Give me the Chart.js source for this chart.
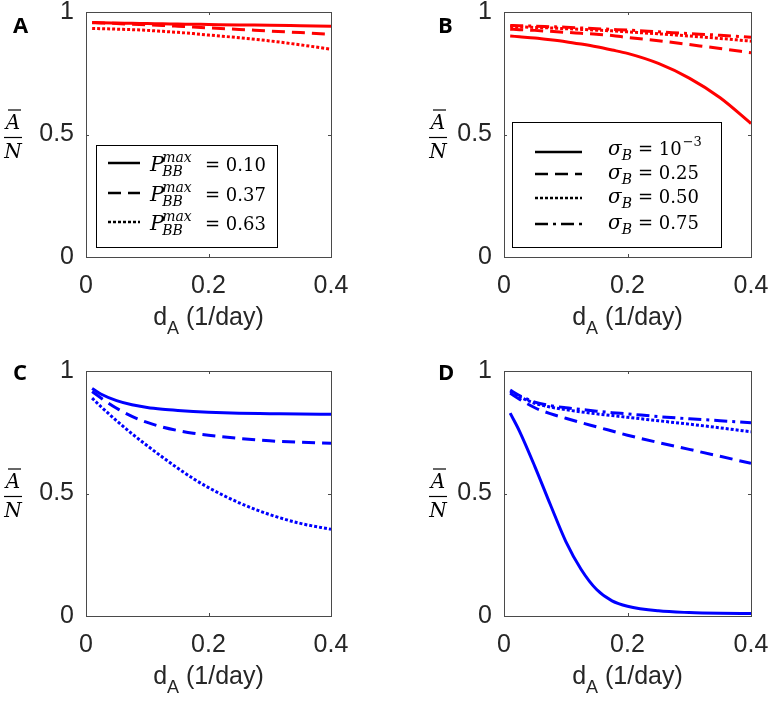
<!DOCTYPE html>
<html>
<head>
<meta charset="utf-8">
<script src="https://cdn.jsdelivr.net/npm/chart.js@4.4.1/dist/chart.umd.min.js"></script>
<style>
  html, body { margin: 0; padding: 0; background: #fff; }
  #wrap { position: relative; width: 771px; height: 703px; }
  #wrap canvas { position: absolute; }
</style>
</head>
<body>
<div id="wrap">
  <canvas id="panelA" width="385" height="350" style="left:0px;top:0px"></canvas>
  <canvas id="panelB" width="386" height="350" style="left:385px;top:0px"></canvas>
  <canvas id="panelC" width="385" height="353" style="left:0px;top:350px"></canvas>
  <canvas id="panelD" width="386" height="353" style="left:385px;top:350px"></canvas>
</div>
<script>
"use strict";

// d_A (1/day), shared x values for every curve
var dA = [0.01, 0.025, 0.05, 0.075, 0.1, 0.125, 0.15, 0.175, 0.2, 0.25, 0.3, 0.35, 0.4];
var xTicks = [0, 0.2, 0.4];
var yTicks = [0, 0.5, 1];

// legend values
var pbbValues = ["0.10", "0.37", "0.63"];
var sigmaValues = ["10", "0.25", "0.50", "0.75"];   // first one is 10^-3

// panel A : P_BB^max = 0.10 / 0.37 / 0.63
var aP010 = [0.957, 0.956, 0.955, 0.954, 0.953, 0.952, 0.951, 0.950, 0.949, 0.947, 0.946, 0.944, 0.942];
var aP037 = [0.956, 0.955, 0.953, 0.950, 0.948, 0.945, 0.942, 0.939, 0.935, 0.929, 0.922, 0.916, 0.909];
var aP063 = [0.933, 0.932, 0.930, 0.928, 0.925, 0.921, 0.917, 0.912, 0.906, 0.895, 0.882, 0.866, 0.848];

// panel B : sigma_B = 1e-3 / 0.25 / 0.50 / 0.75
var bS0001 = [0.902, 0.899, 0.894, 0.887, 0.879, 0.869, 0.858, 0.845, 0.831, 0.790, 0.730, 0.650, 0.545];
var bS025 = [0.930, 0.928, 0.925, 0.921, 0.917, 0.913, 0.909, 0.904, 0.896, 0.883, 0.867, 0.851, 0.834];
var bS050 = [0.940, 0.939, 0.937, 0.935, 0.932, 0.929, 0.926, 0.923, 0.919, 0.911, 0.902, 0.892, 0.881];
var bS075 = [0.945, 0.944, 0.942, 0.940, 0.938, 0.935, 0.932, 0.929, 0.926, 0.919, 0.912, 0.905, 0.897];

// panel C : same P_BB^max values, blue
var cP010 = [0.929, 0.905, 0.879, 0.862, 0.851, 0.844, 0.839, 0.835, 0.832, 0.828, 0.826, 0.824, 0.823];
var cP037 = [0.916, 0.889, 0.848, 0.815, 0.790, 0.771, 0.757, 0.746, 0.738, 0.725, 0.715, 0.709, 0.705];
var cP063 = [0.889, 0.853, 0.797, 0.744, 0.695, 0.648, 0.603, 0.561, 0.524, 0.462, 0.414, 0.378, 0.354];

// panel D : same sigma_B values, blue
var dS0001 = [0.828, 0.755, 0.610, 0.455, 0.305, 0.190, 0.108, 0.062, 0.040, 0.021, 0.014, 0.011, 0.010];
var dS025 = [0.909, 0.885, 0.850, 0.826, 0.807, 0.789, 0.772, 0.755, 0.738, 0.708, 0.680, 0.652, 0.623];
var dS050 = [0.916, 0.895, 0.868, 0.853, 0.842, 0.833, 0.825, 0.818, 0.811, 0.797, 0.783, 0.768, 0.752];
var dS075 = [0.922, 0.900, 0.873, 0.859, 0.850, 0.843, 0.836, 0.830, 0.825, 0.814, 0.805, 0.797, 0.789];

var dashes = {
  solid: [],
  dashed: [13, 7],
  dotted: [3, 2],
  dashdot: [13, 5, 3, 5]
};

var SANS = "'Liberation Sans', Arial, sans-serif";
var SERIF = "'DejaVu Serif', serif";
var AXIS_COLOR = "#262626";

// draw a row of text pieces left to right, returns end x
function drawRuns(ctx, x, y, runs) {
  runs.forEach(function (r) {
    ctx.font = r.font;
    ctx.fillText(r.text, x, y + (r.dy || 0));
    x += ctx.measureText(r.text).width;
  });
  return x;
}

function legendRowsPbb(ctx, lg) {
  pbbValues.forEach(function (val, i) {
    var base = lg.rows[i] + 8;
    ctx.font = "italic 21px " + SERIF;
    ctx.fillText("P", lg.textX, base);
    var x1 = lg.textX + ctx.measureText("P").width - 2;
    ctx.font = "italic 14px " + SERIF;
    ctx.fillText("max", x1, base - 9);
    ctx.fillText("BB", x1, base + 5);
    ctx.font = "18px " + SERIF;
    ctx.fillText("= " + val, lg.eqX, base);
  });
}

function legendRowsSigma(ctx, lg) {
  sigmaValues.forEach(function (val, i) {
    var base = lg.rows[i] + (i == 0 ? 3 : 5);
    ctx.font = "italic 20px " + SERIF;
    ctx.fillText("\u03c3", lg.textX, base);
    var x1 = lg.textX + ctx.measureText("\u03c3").width;
    ctx.font = "italic 14px " + SERIF;
    ctx.fillText("B", x1, base + 5);
    ctx.font = "18px " + SERIF;
    ctx.fillText("= " + val, lg.eqX, base);
    if (i == 0) {
      var w = ctx.measureText("= " + val).width;
      ctx.font = "13px " + SERIF;
      ctx.fillText("\u22123", lg.eqX + w + 1, base - 9);
    }
  });
}

var panelDecor = {
  id: "panelDecor",
  afterDraw: function (chart, args, o) {
    var ctx = chart.ctx;
    var a = chart.chartArea;
    var xs = chart.scales.x, ys = chart.scales.y;
    ctx.save();

    // box + inward ticks
    ctx.strokeStyle = "#4a4a4a";
    ctx.lineWidth = 1;
    ctx.setLineDash([]);
    ctx.strokeRect(a.left + 0.5, a.top + 0.5, a.right - a.left, a.bottom - a.top);
    ctx.beginPath();
    xTicks.forEach(function (v) {
      var px = Math.round(xs.getPixelForValue(v)) + 0.5;
      ctx.moveTo(px, a.bottom); ctx.lineTo(px, a.bottom - 3);
      ctx.moveTo(px, a.top); ctx.lineTo(px, a.top + 3);
    });
    yTicks.forEach(function (v) {
      var py = Math.round(ys.getPixelForValue(v)) + 0.5;
      ctx.moveTo(a.left, py); ctx.lineTo(a.left + 3, py);
      ctx.moveTo(a.right, py); ctx.lineTo(a.right - 3, py);
    });
    ctx.stroke();

    // x title  d_A (1/day)
    ctx.fillStyle = AXIS_COLOR;
    ctx.textAlign = "left";
    ctx.textBaseline = "alphabetic";
    var runs = [
      { text: "d", font: "25px " + SANS },
      { text: "A", font: "18px " + SANS, dy: 9 },
      { text: " (1/day)", font: "25px " + SANS }
    ];
    var tw = 0;
    runs.forEach(function (r) { ctx.font = r.font; tw += ctx.measureText(r.text).width; });
    drawRuns(ctx, (a.left + a.right) / 2 - tw / 2, a.bottom + 68, runs);

    // y label  A-bar / N
    ctx.fillStyle = "#000";
    ctx.strokeStyle = "#000";
    var fy = Math.round(ys.getPixelForValue(0.5)) + 2.5;
    var cx = o.ylabelX;
    ctx.lineWidth = 1.2;
    ctx.beginPath();
    ctx.moveTo(cx - 9, fy); ctx.lineTo(cx + 9, fy);
    ctx.stroke();
    ctx.font = "italic 20px " + SERIF;
    ctx.textAlign = "center";
    ctx.fillText("A", cx, fy - 9);
    ctx.fillText("N", cx, fy + 20);
    ctx.beginPath();
    ctx.moveTo(cx - 5, fy - 27.5); ctx.lineTo(cx + 8, fy - 27.5);
    ctx.stroke();

    // panel letter
    ctx.textAlign = "left";
    ctx.font = "bold 22px 'Open Sans', " + SANS;
    ctx.fillText(o.letter, o.letterX, o.letterY);

    // legend
    var lg = o.legend;
    if (lg) {
      ctx.fillStyle = "#fff";
      ctx.fillRect(lg.x, lg.y, lg.w, lg.h);
      ctx.strokeStyle = "#000";
      ctx.lineWidth = 1;
      ctx.strokeRect(lg.x + 0.5, lg.y + 0.5, lg.w, lg.h);
      chart.data.datasets.forEach(function (ds, i) {
        ctx.beginPath();
        ctx.lineWidth = 2.5;
        ctx.setLineDash(ds.borderDash);
        ctx.moveTo(lg.lineX0, lg.rows[i]);
        ctx.lineTo(lg.lineX1, lg.rows[i]);
        ctx.stroke();
      });
      ctx.setLineDash([]);
      ctx.fillStyle = "#000";
      if (lg.kind == "pbb") legendRowsPbb(ctx, lg);
      else legendRowsSigma(ctx, lg);
    }
    ctx.restore();
  }
};

function makePanel(id, color, series, box, decor) {
  var canvas = document.getElementById(id);
  var W = canvas.width, H = canvas.height;
  return new Chart(canvas, {
    type: "line",
    data: {
      datasets: series.map(function (s) {
        return {
          label: s.label,
          data: dA.map(function (x, i) { return { x: x, y: s.values[i] }; }),
          borderColor: color,
          borderWidth: 3,
          borderDash: s.dash,
          pointRadius: 0,
          cubicInterpolationMode: "monotone",
          fill: false
        };
      })
    },
    options: {
      responsive: false,
      animation: false,
      devicePixelRatio: 1,
      events: [],
      layout: { padding: { left: 0, top: box.top, right: W - box.right, bottom: 0 } },
      plugins: {
        legend: { display: false },
        tooltip: { enabled: false },
        panelDecor: decor
      },
      scales: {
        x: {
          type: "linear",
          min: 0,
          max: 0.4,
          grid: { display: false, drawTicks: false },
          border: { display: false },
          afterBuildTicks: function (s) { s.ticks = xTicks.map(function (v) { return { value: v }; }); },
          ticks: {
            padding: 14,
            maxRotation: 0,
            autoSkip: false,
            color: AXIS_COLOR,
            font: { family: SANS, size: 25 },
            callback: function (v) { return String(v); }
          },
          afterFit: function (s) { s.height = H - box.bottom; s.paddingLeft = 0; s.paddingRight = 0; }
        },
        y: {
          min: 0,
          max: 1,
          grid: { display: false, drawTicks: false },
          border: { display: false },
          afterBuildTicks: function (s) { s.ticks = yTicks.map(function (v) { return { value: v }; }); },
          ticks: {
            padding: 12,
            color: AXIS_COLOR,
            font: { family: SANS, size: 25 },
            callback: function (v) { return String(v); }
          },
          afterFit: function (s) { s.width = box.left; s.paddingTop = 0; s.paddingBottom = 0; }
        }
      }
    },
    plugins: [panelDecor]
  });
}

var RED = "#ff0000";
var BLUE = "#0000ff";

makePanel("panelA", RED, [
  { label: "P_BB^max = 0.10", values: aP010, dash: dashes.solid },
  { label: "P_BB^max = 0.37", values: aP037, dash: dashes.dashed },
  { label: "P_BB^max = 0.63", values: aP063, dash: dashes.dotted }
], { left: 86, top: 12, right: 331, bottom: 257 }, {
  letter: "A", letterX: 13, letterY: 33, ylabelX: 13,
  legend: { kind: "pbb", x: 96, y: 145, w: 181, h: 102, lineX0: 108, lineX1: 140,
            rows: [163, 193, 222], textX: 150, eqX: 205 }
});

makePanel("panelB", RED, [
  { label: "sigma_B = 10^-3", values: bS0001, dash: dashes.solid },
  { label: "sigma_B = 0.25", values: bS025, dash: dashes.dashed },
  { label: "sigma_B = 0.50", values: bS050, dash: dashes.dotted },
  { label: "sigma_B = 0.75", values: bS075, dash: dashes.dashdot }
], { left: 119, top: 12, right: 366, bottom: 257 }, {
  letter: "B", letterX: 53, letterY: 33, ylabelX: 53,
  legend: { kind: "sigma", x: 127, y: 122, w: 209, h: 125, lineX0: 150, lineX1: 197,
            rows: [152, 174, 198, 224], textX: 223, eqX: 253 }
});

makePanel("panelC", BLUE, [
  { label: "P_BB^max = 0.10", values: cP010, dash: dashes.solid },
  { label: "P_BB^max = 0.37", values: cP037, dash: dashes.dashed },
  { label: "P_BB^max = 0.63", values: cP063, dash: dashes.dotted }
], { left: 86, top: 21, right: 331, bottom: 266 }, {
  letter: "C", letterX: 13, letterY: 30, ylabelX: 13
});

makePanel("panelD", BLUE, [
  { label: "sigma_B = 10^-3", values: dS0001, dash: dashes.solid },
  { label: "sigma_B = 0.25", values: dS025, dash: dashes.dashed },
  { label: "sigma_B = 0.50", values: dS050, dash: dashes.dotted },
  { label: "sigma_B = 0.75", values: dS075, dash: dashes.dashdot }
], { left: 119, top: 21, right: 366, bottom: 266 }, {
  letter: "D", letterX: 53, letterY: 30, ylabelX: 53
});
</script>
</body>
</html>
